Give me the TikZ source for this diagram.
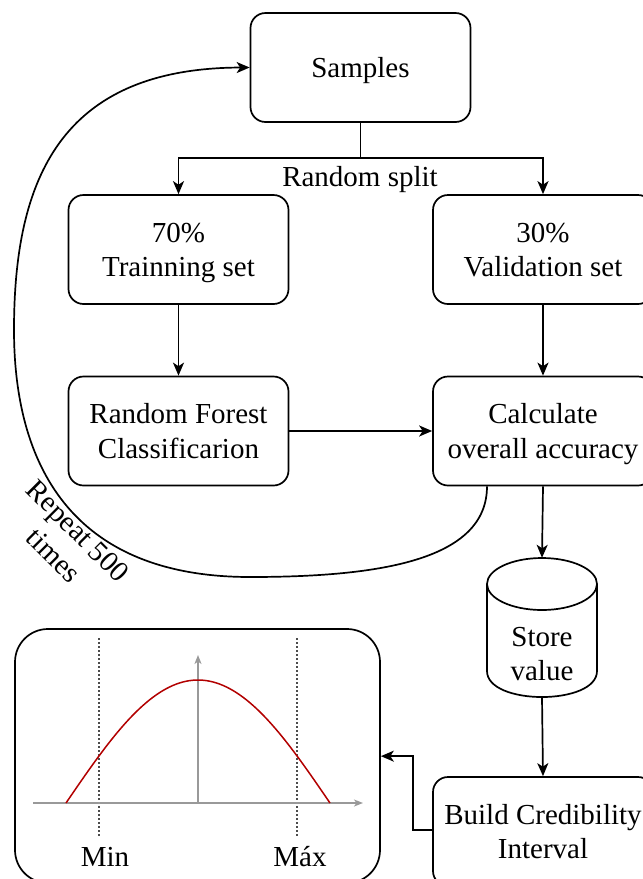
\documentclass[tikz,border=0pt]{standalone}
\usepackage{fontspec}
\setmainfont{Liberation Serif}
\usetikzlibrary{arrows.meta}
% centred lines with a fixed first-line height, so every box sets its text alike
\newcommand\boxlines[2][30pt]{\begin{tabular}{@{}c@{}}\rule{0pt}{#1}#2\end{tabular}}
\begin{document}
\begin{tikzpicture}[x=1pt,y=-1pt,
  txt/.style={font=\fontsize{29}{34.5}\selectfont, align=center, inner sep=0pt},
  box/.style={txt, draw, line width=1.7pt, rounded corners=15pt,
    minimum width=220pt, minimum height=109pt},
  conn/.style={line width=1.7pt, -{Stealth[length=13pt,width=11pt,inset=3.5pt]}},
  edge/.style={line width=1.7pt},
  axis/.style={line width=1.5pt, draw=black!40, -{Stealth[length=9pt,width=7pt,inset=2.5pt]}},
  guide/.style={line width=1.3pt, draw=black!70, dash pattern=on 1.5pt off 2.5pt},
  curve/.style={line width=1.5pt, draw=red!70!black}]
\useasboundingbox (0,0) rectangle (643,879);
\clip (0,0) rectangle (643,879);

% process boxes
\node[box] (samples) at (360.5,67.5) {\boxlines{Samples}};
\node[box] (train) at (178.5,249.5) {\boxlines{70\%\\Trainning set}};
\node[box] (valid) at (543,249.5) {\boxlines{30\%\\Validation set}};
\node[box] (rf) at (178.5,431) {\boxlines{Random Forest\\Classificarion}};
\node[box] (calc) at (543,431) {\boxlines{Calculate\\overall accuracy}};
\node[box] (build) at (543,831.5) {\boxlines{Build Credibility\\Interval}};

% storage cylinder
\node[txt, minimum width=110pt, minimum height=139pt] (store) at (542,627.5) {\boxlines[82pt]{Store\\value}};
\draw[edge] (542,584) ellipse [x radius=55pt, y radius=26pt];
\draw[edge] (487,584) -- (487,671) .. controls (487,705.7) and (597,705.7) .. (597,671) -- (597,584);

% chart panel
\node[draw, line width=1.7pt, rounded corners=33pt, minimum width=365pt, minimum height=254pt] (chart) at (197.5,756) {};

% split
\draw[edge] (samples.south) -- ++(0,35) coordinate (split);
\draw[conn] (split) -| (train.north);
\draw[conn] (split) -| (valid.north);
\node[txt, anchor=base] (splitlbl) at (360,186) {Random split};

\draw[conn] (train.south) -- (rf.north);
\draw[conn] (valid.south) -- (calc.north);
\draw[conn] (rf.east) -- (calc.west);
\draw[conn] (calc.south) -- (store.north);
\draw[conn] (store.south) -- (build.north);
\draw[conn] ([yshift=1.5pt]build.west) -- ++(-19,0) |- ([yshift=-128pt]chart.north east);

% repeat loop
\draw[conn] ([xshift=-56pt]calc.south) .. controls (487,560) and (380,577) .. (250,577)
  .. controls (60,577) and (14,450) .. (14,330)
  .. controls (14,180) and (60,68) .. (samples.west);
\node[txt, rotate=-45] (repeat) at (64,545) {\boxlines[20pt]{Repeat 500\\times}};

% distribution sketch
\draw[guide] (99,638) -- (99,837);
\draw[guide] (297,638) -- (297,837);
\draw[axis] (33,803) -- (363,803);
\draw[axis] (198,803) -- (198,655);
\draw[curve] plot[domain=-132:132, samples=80, smooth] ({198+\x},{803-123*cos(\x/132*90)});
\node[txt, anchor=base] (minlbl) at (105,866) {Min};
\node[txt, anchor=base] (maxlbl) at (300,866) {Máx};
\end{tikzpicture}
\end{document}
